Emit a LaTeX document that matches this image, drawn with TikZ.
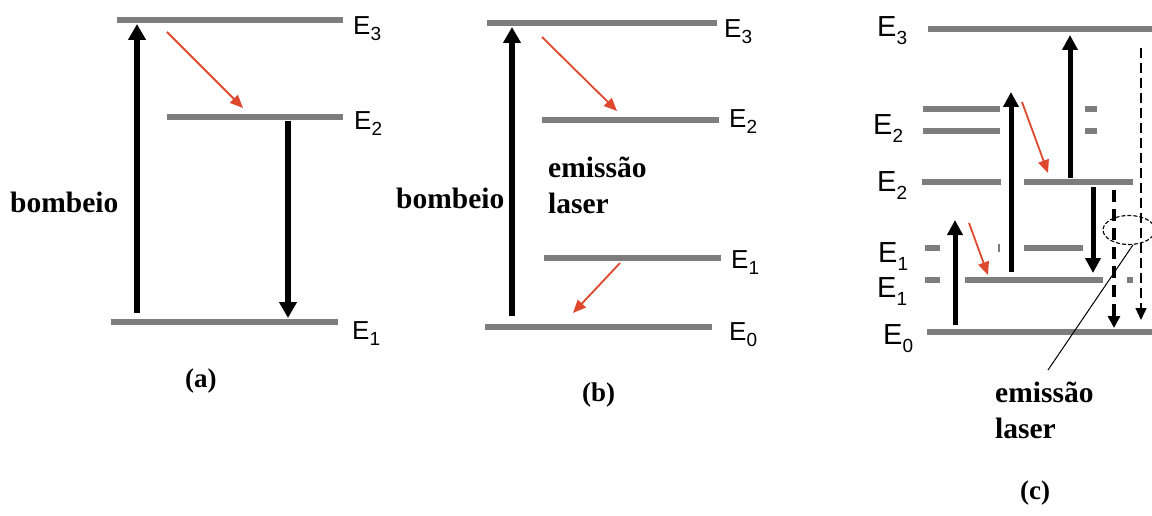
\documentclass[tikz,border=0pt]{standalone}
\usepackage{fontspec}
\setmainfont{Liberation Serif}
\newfontfamily\arialf{Liberation Sans}
\usetikzlibrary{arrows.meta,shapes.geometric}
\definecolor{levgray}{RGB}{125,125,125}
\definecolor{redarr}{RGB}{222,72,44}
% E label: #1 = E size, #2 = lowering, #3 = index
\newcommand{\lvl}[3]{{\arialf\fontsize{#1}{#1}\selectfont E\raisebox{-#2pt}{\fontsize{19}{19}\selectfont #3}}}
\begin{document}
\begin{tikzpicture}[x=1pt,y=-1pt,
  level/.style={draw=levgray,line width=5.5pt},
  elab/.style={anchor=base west,inner sep=0pt},
  btext/.style={anchor=base west,inner sep=0pt,font=\bfseries\fontsize{29.5}{29.5}\selectfont},
  captext/.style={anchor=base west,inner sep=0pt,font=\bfseries\fontsize{27}{27}\selectfont},
  pump/.style={line width=6pt,-{Triangle[length=16pt,width=17pt]}},
  pumpc/.style={line width=5pt,-{Triangle[length=15pt,width=15pt]}},
  relax/.style={draw=redarr,line width=1.8pt,-{Triangle[length=13pt,width=11pt]}},
  thickdash/.style={line width=3.5pt,dash pattern=on 12pt off 7pt,-{Triangle[length=12pt,width=12pt]}},
  thindash/.style={line width=1.3pt,dash pattern=on 10pt off 5pt,-{Triangle[length=12pt,width=11pt]}},
]
\useasboundingbox[fill=white] (0,0) rectangle (1152,516);

% ---------------- (a) ----------------
\draw[level] (117,20) -- (343,20);
\draw[level] (167,117) -- (343,117);
\draw[level] (111,322) -- (338,322);
\node[elab] (aE3) at (353,35) {\lvl{26}{6}{3}};
\node[elab] (aE2) at (354,130) {\lvl{26}{6}{2}};
\node[elab] (aE1) at (352,339) {\lvl{26}{6}{1}};
\coordinate (aPb) at (137,313);
\coordinate (aPt) at (137,24);
\coordinate (aDt) at (288,121);
\coordinate (aDb) at (288,318);
\coordinate (aRs) at (167,32);
\coordinate (aRe) at (243,108);
\draw[pump] (aPb) -- (aPt);
\draw[pump] (aDt) -- (aDb);
\draw[relax] (aRs) -- (aRe);
\node[btext] (aBomb) at (10,212) {bombeio};
\node[captext] (aCap) at (185,387) {(a)};

% ---------------- (b) ----------------
\draw[level] (487,23) -- (717,23);
\draw[level] (542,120) -- (719,120);
\draw[level] (544,258) -- (721,258);
\draw[level] (485,327) -- (712,327);
\node[elab] (bE3) at (724,38) {\lvl{26}{6}{3}};
\node[elab] (bE2) at (729,128) {\lvl{26}{6}{2}};
\node[elab] (bE1) at (731,268) {\lvl{26}{6}{1}};
\node[elab] (bE0) at (729,340) {\lvl{26}{6}{0}};
\coordinate (bPb) at (512,316);
\coordinate (bPt) at (512,27);
\coordinate (bR1s) at (542,37);
\coordinate (bR1e) at (617,111);
\coordinate (bR2s) at (620,263);
\coordinate (bR2e) at (573,313);
\draw[pump] (bPb) -- (bPt);
\draw[relax] (bR1s) -- (bR1e);
\draw[relax] (bR2s) -- (bR2e);
\node[btext] (bBomb) at (396,208) {bombeio};
\node[btext] (bEm) at (548,178) {emissão};
\node[btext] (bLa) at (548,213) {laser};
\node[captext] (bCap) at (582,401) {(b)};

% ---------------- (c) ----------------
\draw[level] (928,29) -- (1152,29);
\draw[level] (923,109) -- (1000,109);
\draw[level] (1085,109) -- (1097,109);
\draw[level] (923,131) -- (1000,131);
\draw[level] (1085,131) -- (1097,131);
\draw[level] (922,182) -- (1001,182);
\draw[level] (1024,182) -- (1133,182);
\draw[level] (925,248) -- (940,248);
\draw[levgray,line width=2pt] (999,244) -- (999,252);
\draw[level] (1024,248) -- (1083,248);
\draw[level] (925,280) -- (940,280);
\draw[level] (965,280) -- (1103,280);
\draw[level] (1127,280) -- (1133,280);
\draw[level] (927,332) -- (1152,332);
\node[elab] (cE3) at (877,37) {\lvl{29}{8}{3}};
\node[elab] (cE2a) at (873,135) {\lvl{29}{8}{2}};
\node[elab] (cE2b) at (877,192) {\lvl{29}{8}{2}};
\node[elab] (cE1a) at (878,262) {\lvl{29}{8}{1}};
\node[elab] (cE1b) at (877,297) {\lvl{29}{8}{1}};
\node[elab] (cE0) at (883,344) {\lvl{29}{8}{0}};
\coordinate (cP1b) at (955,325);
\coordinate (cP1t) at (955,220);
\coordinate (cP2b) at (1011,272);
\coordinate (cP2t) at (1011,92);
\coordinate (cP3b) at (1070,178);
\coordinate (cP3t) at (1070,35);
\coordinate (cDt) at (1093,187);
\coordinate (cDb) at (1093,273);
\coordinate (cR1s) at (1022,102);
\coordinate (cR1e) at (1048,173);
\coordinate (cR2s) at (969,223);
\coordinate (cR2e) at (988,275);
\coordinate (cL1t) at (1114,190);
\coordinate (cL1b) at (1114,328);
\coordinate (cL2t) at (1141,48);
\coordinate (cL2b) at (1141,320);
\draw[pumpc] (cP1b) -- (cP1t);
\draw[pumpc] (cP2b) -- (cP2t);
\draw[pumpc] (cP3b) -- (cP3t);
\draw[pumpc] (cDt) -- (cDb);
\draw[relax] (cR1s) -- (cR1e);
\draw[relax] (cR2s) -- (cR2e);
\draw[thickdash] (cL1t) -- (cL1b);
\draw[thindash] (cL2t) -- (cL2b);
\node[draw,ellipse,minimum width=52pt,minimum height=29pt,inner sep=0pt,line width=1.1pt,dash pattern=on 4pt off 2pt] (cEll) at (1129,230) {};
\node[btext] (cEm) at (995,402) {emissão};
\node[btext] (cLa) at (995,438) {laser};
\coordinate (cLead) at (1048,370);
\draw[line width=1pt] (cEll.-75) -- (cLead);
\node[captext] (cCap) at (1020,499) {(c)};
\end{tikzpicture}
\end{document}
